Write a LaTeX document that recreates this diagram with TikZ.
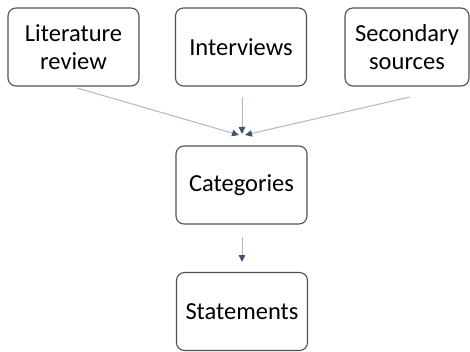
\documentclass[tikz,border=0pt]{standalone}
\usepackage{fontspec}
\setmainfont{Carlito}
\usetikzlibrary{arrows.meta}
\definecolor{boxline}{RGB}{80,80,80}
\definecolor{linkc}{RGB}{170,184,204}
\definecolor{tipc}{RGB}{68,84,110}
\begin{document}
\begin{tikzpicture}[x=1pt,y=-1pt,
  box/.style={draw=boxline, line width=1.1pt, rounded corners=8pt,
    minimum width=131pt, minimum height=78pt, align=center, inner sep=0pt,
    font=\fontsize{24.5}{28}\selectfont},
  link/.style={draw=linkc, line width=1pt,
    -{Triangle[length=7pt,width=6.5pt,color=tipc]}}]
\useasboundingbox (0,0) rectangle (470,352);
% source boxes
\node[box] (lit) at (73.5,47) {Literature\\review};
\node[box] (int) at (241,47) {Interviews};
\node[box, minimum width=124pt] (sec) at (407,47) {Secondary\\sources};
% merged categories and resulting statements
\node[box] (cat) at (241.5,185) {Categories};
\node[box] (stm) at (242,311.5) {Statements};
% connector start and end points
\coordinate (litout) at (77,88);
\coordinate (intout) at (242,97);
\coordinate (secout) at (410,97);
\coordinate (inl) at (239,135);
\coordinate (inm) at (242,134);
\coordinate (inr) at (245,135);
\coordinate (catout) at (242,237);
\coordinate (stmin) at (242,262);
\draw[link] (litout) -- (inl);
\draw[link] (intout) -- (inm);
\draw[link] (secout) -- (inr);
\draw[link] (catout) -- (stmin);
\end{tikzpicture}
\end{document}
